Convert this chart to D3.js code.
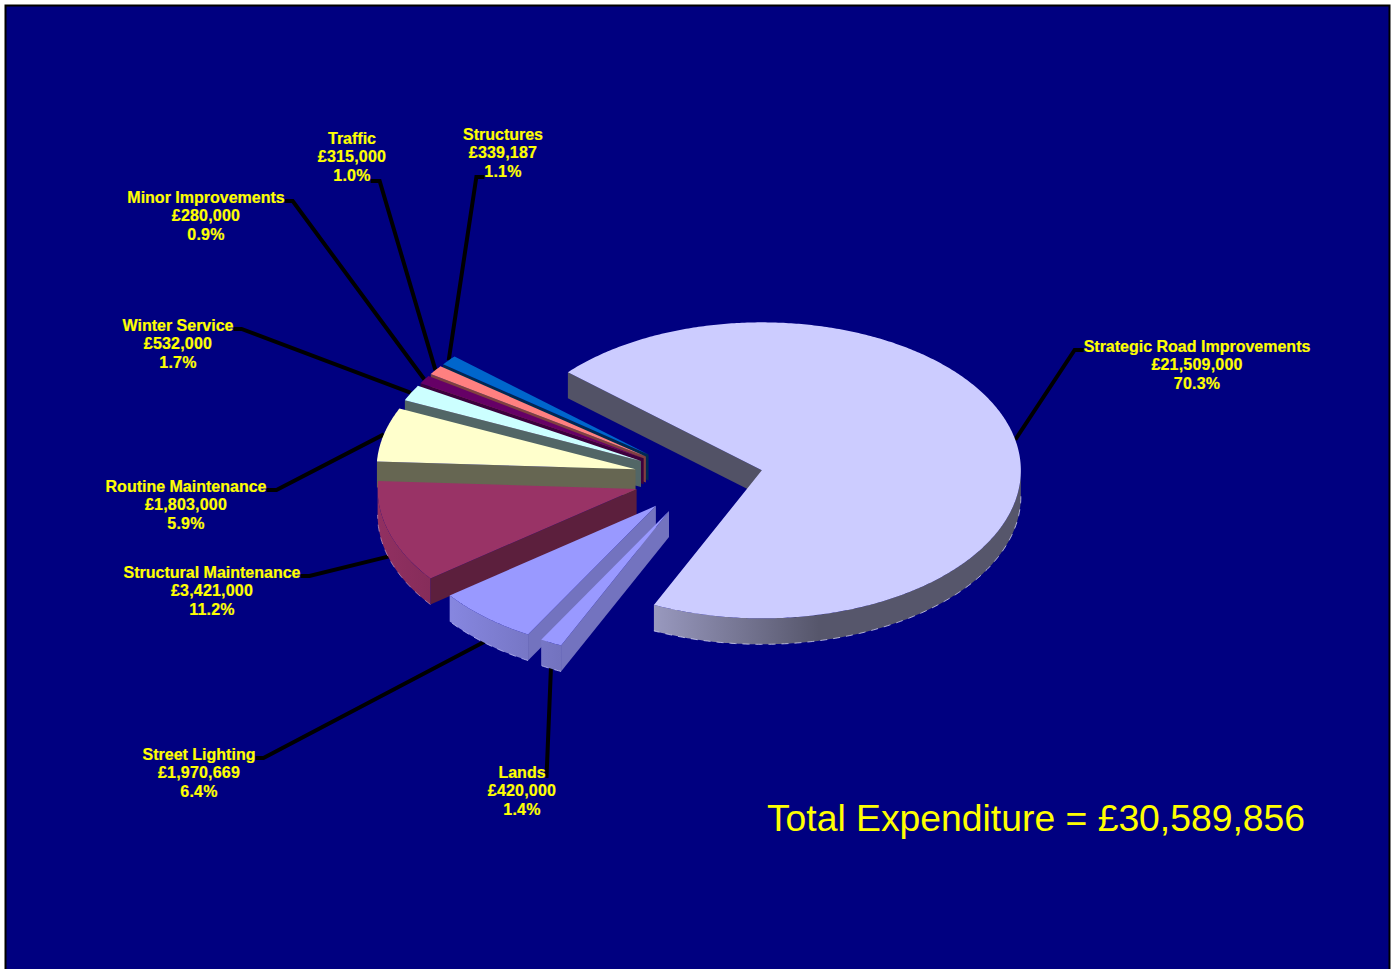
<!DOCTYPE html>
<html>
<head>
<meta charset="utf-8">
<script src="https://cdn.jsdelivr.net/npm/d3@7"></script>
<style>
html,body{margin:0;padding:0;background:#fff;}
svg{display:block;}
text{font-family:"Liberation Sans",Arial,sans-serif;}
</style>
</head>
<body>
<script>
// ---- data ----
const categories = ["Strategic Road Improvements","Lands","Street Lighting","Structural Maintenance","Routine Maintenance","Winter Service","Minor Improvements","Traffic","Structures"];
const expenditure = [21509000,420000,1970669,3421000,1803000,532000,280000,315000,339187];
const totalLabel = "Total Expenditure = £30,589,856";
// ---- styles ----
const topColours = ["#CCCCFF","#9999FF","#9999FF","#993366","#FFFFCC","#CCFFFF","#660066","#FF8080","#0066CC"];
const edgeShade = [0.4,0.75,0.75,0.6,0.4,0.4,0.6,0.5,0.4];
// ---- layout ----
const W=1394,H=969;
const labelAnchors = [[1197,352],[522,778],[199,760],[212,578],[186,492],[178,331],[206,203],[352,144],[503,140]];
const elbowDir = [-1,1,1,1,1,1,1,1,-1];
const elbowLen = [9,1,8,9,10,8,8,9,8];
const leaderRow = [0,0,0,0,0,0,0,2,2];
const lineOffsets = [0,18,37];
const pieCentre=[698.5,478], radiusX=259, radiusY=148, depth=26, explode=0.25, rotationDeg=311.5;

const svg=d3.select("body").append("svg").attr("width",W).attr("height",H);
const defs=svg.append("defs");
svg.append("rect").attr("x",5.5).attr("y",5.5).attr("width",1384).attr("height",H).attr("fill","#000080").attr("stroke","#000").attr("stroke-width",2);
const leaders=svg.append("g");

const x=d3.scaleLinear().domain([-1,1]).range([pieCentre[0]-radiusX,pieCentre[0]+radiusX]);
const y=d3.scaleLinear().domain([-1,1]).range([pieCentre[1]-radiusY,pieCentre[1]+radiusY]);
const rot=rotationDeg*Math.PI/180;
const pie=d3.pie().sort(null).startAngle(rot).endAngle(rot+2*Math.PI);
const arcs=pie(expenditure).map((a,i)=>{
  const mid=(a.startAngle+a.endAngle)/2;
  return {...a,i,mid,ox:explode*Math.sin(mid),oy:-explode*Math.cos(mid)};
});
const px=(d,ang)=>x(d.ox+Math.sin(ang));
const py=(d,ang)=>y(d.oy-Math.cos(ang));
const line=d3.line();
const arcPts=(d,a0,a1)=>{const n=Math.max(2,Math.ceil((a1-a0)/0.01));return d3.range(n+1).map(k=>{const t=a0+(a1-a0)*k/n;return [px(d,t),py(d,t)];});};

function rimRanges(d){
  const out=[];
  for(const k of [0,1]){
    const lo=Math.PI/2+k*2*Math.PI, hi=3*Math.PI/2+k*2*Math.PI;
    const a0=Math.max(d.startAngle,lo), a1=Math.min(d.endAngle,hi);
    if(a1>a0) out.push([a0,a1]);
  }
  return out;
}
function shade(c,f){const r=d3.rgb(c);return d3.rgb(r.r*f,r.g*f,r.b*f).formatHex();}

const order=[8,7,6,5,4,3,2,1,0];
const g=svg.append("g");
order.forEach(i=>{
  const d=arcs[i],c=topColours[i];
  const group=g.append("g");
  const sx=px(d,d.startAngle), sy=py(d,d.startAngle);
  const apx=x(d.ox), apy=y(d.oy);
  group.append("path").attr("d",line([[apx,apy],[sx,sy],[sx,sy+depth],[apx,apy+depth]])+"Z").attr("fill",shade(c,edgeShade[i]));
  rimRanges(d).forEach((rg,j)=>{
    const pts=arcPts(d,rg[0],rg[1]);
    const id=`rim${i}_${j}`;
    const lg=defs.append("linearGradient").attr("id",id).attr("gradientUnits","userSpaceOnUse")
      .attr("x1",x(d.ox-1)).attr("x2",x(d.ox+1)).attr("y1",0).attr("y2",0);
    [[0,0.95],[0.29,0.75],[0.61,0.42],[1,0.42]].forEach(s=>lg.append("stop").attr("offset",s[0]).attr("stop-color",shade(c,s[1])));
    const lower=pts.map(p=>[p[0],p[1]+depth]);
    group.append("path").attr("d",line(pts.concat(lower.slice().reverse()))+"Z").attr("fill",`url(#${id})`);
    group.append("path").attr("d",line(lower)).attr("fill","none").attr("stroke",d3.interpolateRgb(c,"#fff")(0.55)).attr("stroke-width",1).attr("stroke-dasharray","7 6").attr("stroke-opacity",0.7);
  });
  group.append("path").attr("d",line([[apx,apy]].concat(arcPts(d,d.startAngle,d.endAngle)))+"Z").attr("fill",c);
});

const fmt=d3.format(",");
const total=d3.sum(expenditure);
const pct=d3.format(".1%");
const text=svg.append("g");
arcs.forEach(d=>{
  const i=d.i;
  const bottom=Math.cos(d.mid)<0;
  const ex=px(d,d.mid), ey=py(d,d.mid)+(bottom?depth-2:0);
  const [lx,ly]=labelAnchors[i];
  const lines=[categories[i],"£"+fmt(expenditure[i]),pct(expenditure[i]/total)];
  const t=text.append("text").attr("text-anchor","middle")
    .attr("fill","#FFFF00").attr("stroke","#FFFF00").attr("stroke-width",0.2).attr("font-weight","700").attr("font-size",16);
  const spans=lines.map((s,k)=>t.append("tspan").attr("x",lx).attr("y",ly+lineOffsets[k]).attr("letter-spacing",k?0.2:0).text(s));
  const row=leaderRow[i],dir=elbowDir[i];
  const w=spans[row].node().getComputedTextLength();
  const sx=lx+dir*w/2, sy=ly+lineOffsets[row]+(row===0?-2:0);
  leaders.append("path").attr("d",line([[sx,sy],[sx+dir*elbowLen[i],sy],[ex,ey]]))
    .attr("fill","none").attr("stroke","#000").attr("stroke-width",4);
});
svg.append("text").attr("x",1036).attr("y",831).attr("text-anchor","middle").attr("fill","#FFFF00").attr("font-size",37.3).text(totalLabel);
</script>
</body>
</html>
